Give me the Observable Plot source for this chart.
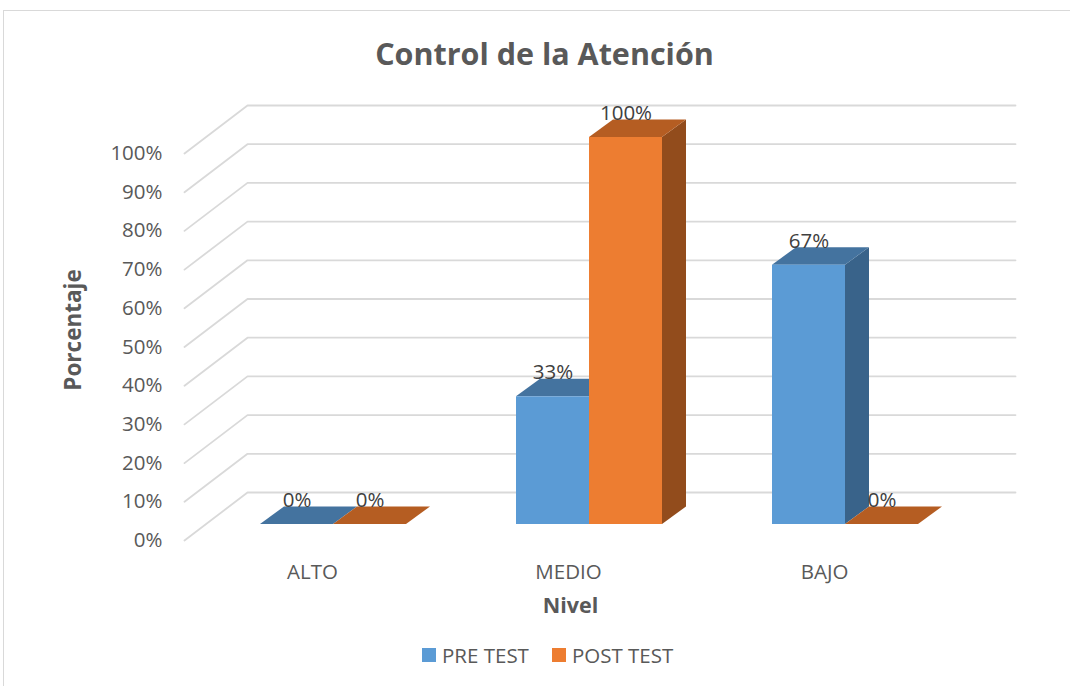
<!DOCTYPE html>
<html>
<head>
<meta charset="utf-8">
<script src="https://cdn.jsdelivr.net/npm/d3@7"></script>
<script src="https://cdn.jsdelivr.net/npm/@observablehq/plot@0.6"></script>
<style>
  html, body { margin: 0; padding: 0; background: #fff; }
  body { width: 1070px; height: 686px; position: relative; overflow: hidden; font-family: "Open Sans", sans-serif; }
  #frame { position: absolute; left: 3px; top: 10px; width: 1100px; height: 700px; border: 1px solid #d9d9d9; box-sizing: border-box; }
  #title { position: absolute; left: 0; top: 38px; width: 1089px; text-align: center; font-size: 30.5px; font-weight: bold; color: #595959; line-height: 1; }
  #chart { position: absolute; left: 0; top: 85px; }
  #legend { position: absolute; left: 422px; top: 645px; display: flex; align-items: center; font-size: 20.5px; color: #595959; line-height: 1; }
  #legend .sw { width: 14px; height: 14px; display: inline-block; margin-right: 6px; }
  #legend .item { display: flex; align-items: center; margin-right: 23px; }
</style>
</head>
<body>
<div id="frame"></div>
<div id="title">Control de la Atención</div>
<div id="chart"></div>
<div id="legend"></div>
<script>
// ---- data ----
const categories = ["ALTO", "MEDIO", "BAJO"];
const series = ["PRE TEST", "POST TEST"];
const preTest = [0, 0.33, 0.67];
const postTest = [0, 1.00, 0];
const yTicks = [0, 0.1, 0.2, 0.3, 0.4, 0.5, 0.6, 0.7, 0.8, 0.9, 1.0];

// ---- style ----
const frontColors = ["#5B9BD5", "#ED7D31"];
const topColors = ["#44739F", "#B55D22"];
const sideColors = ["#39638A", "#924C1C"];
const gridColor = "#d9d9d9";

// ---- layout ----
const W = 1070, H = 540;
const mL = 184, mR = 118, mT = 68, mB = 85;
const pxPerX = (W - mL - mR) / categories.length;   // pixels per category unit
const pxPerY = (H - mT - mB) / 1;                    // pixels per 100%
const px = (dxPx) => dxPx / pxPerX;
const py = (dyPx) => dyPx / pxPerY;
const wall = [px(63), py(48)];       // back wall offset
const barFront = [px(21), py(16)];   // bar front plane offset
const depth = [px(24), py(17.5)];    // bar depth
const barW = px(73);                 // bar width

const valuesBySeries = [preTest, postTest];
const bars = [];
categories.forEach((c, i) => {
  series.forEach((s, k) => {
    const v = valuesBySeries[k][i];
    const x1 = i + 0.5 - barW + k * barW + barFront[0];
    bars.push({id: c + "-" + s, cat: c, s: k, v, x1, x2: x1 + barW, y1: barFront[1], y2: v + barFront[1]});
  });
});
const sides = bars.flatMap(b => [
  {id: b.id, s: b.s, x: b.x2, y1: b.y1, y2: b.y2},
  {id: b.id, s: b.s, x: b.x2 + depth[0], y1: b.y1 + depth[1], y2: b.y2 + depth[1]}
]);
const tops = bars.flatMap(b => [
  {id: b.id, s: b.s, y: b.y2, x1: b.x1, x2: b.x2},
  {id: b.id, s: b.s, y: b.y2 + depth[1], x1: b.x1 + depth[0], x2: b.x2 + depth[0]}
]);
const grid = yTicks.flatMap(t => [
  {t, x: 0, y: t},
  {t, x: wall[0], y: t + wall[1]},
  {t, x: categories.length + wall[0], y: t + wall[1]}
]);

const chart = Plot.plot({
  width: W, height: H,
  marginLeft: mL, marginRight: mR, marginTop: mT, marginBottom: mB,
  x: {type: "linear", domain: [0, categories.length]},
  y: {type: "linear", domain: [0, 1]},
  style: {fontFamily: "'Open Sans', sans-serif", color: "#595959", background: "transparent", overflow: "visible"},
  marks: [
    Plot.line(grid, {x: "x", y: "y", z: "t", stroke: gridColor, strokeWidth: 1.8}),
    Plot.axisY({ticks: yTicks, tickFormat: d3.format(".0%"), tickSize: 0, tickPadding: 22, fontSize: 20.5, label: null}),
    Plot.axisX({ticks: categories.map((c, i) => i + 0.5), tickFormat: d => categories[Math.floor(d)], tickSize: 0, tickPadding: 24, fontSize: 20.5, label: null}),
    Plot.areaY(sides, {x: "x", y1: "y1", y2: "y2", z: "id", fill: d => sideColors[d.s]}),
    Plot.areaX(tops, {y: "y", x1: "x1", x2: "x2", z: "id", fill: d => topColors[d.s]}),
    Plot.rect(bars, {x1: "x1", x2: "x2", y1: "y1", y2: "y2", fill: d => frontColors[d.s]}),
    Plot.text(bars, {x: d => (d.x1 + d.x2) / 2, y: "y2", dy: -24, text: d => d3.format(".0%")(d.v), fontSize: 20.5, fill: "#404040", lineAnchor: "middle"}),
    Plot.text(["Porcentaje"], {frameAnchor: "left", text: d => d, rotate: -90, dx: -111, dy: -17, textAnchor: "middle", lineAnchor: "middle", fontWeight: "bold", fontSize: 22.5, fill: "#595959"}),
    Plot.text(["Nivel"], {frameAnchor: "bottom", text: d => d, dx: 2, dy: 66, textAnchor: "middle", lineAnchor: "middle", fontWeight: "bold", fontSize: 21.5, fill: "#595959"})
  ]
});
document.getElementById("chart").appendChild(chart);

const legend = document.getElementById("legend");
series.forEach((s, k) => {
  const item = document.createElement("div");
  item.className = "item";
  const sw = document.createElement("span");
  sw.className = "sw";
  sw.style.background = frontColors[k];
  const label = document.createElement("span");
  label.textContent = s;
  item.appendChild(sw);
  item.appendChild(label);
  legend.appendChild(item);
});
</script>
</body>
</html>
